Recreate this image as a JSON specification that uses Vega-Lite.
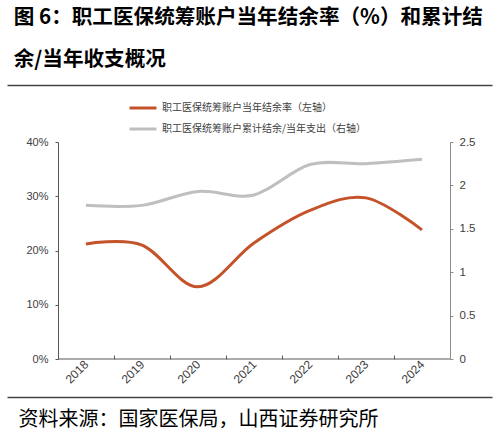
{
  "$schema": "https://vega.github.io/schema/vega-lite/v6.json",
  "autosize": {"type": "none"},
  "width": 485,
  "height": 217,
  "padding": {"left": 7, "top": 142, "right": 5, "bottom": 79},
  "background": "white",
  "title": {
    "text": ["图 6：职工医保统筹账户当年结余率（%）和累计结", "余/当年收支概况"],
    "anchor": "start",
    "dx": 11,
    "offset": 14,
    "lineHeight": 42,
    "font": "Noto Sans CJK SC",
    "fontSize": 20.6,
    "fontWeight": "bold",
    "color": "#000000"
  },
  "data": {
    "values": [
      {"year": "2018", "rate": 21.2, "ratio": 1.77},
      {"year": "2019", "rate": 21.0, "ratio": 1.77},
      {"year": "2020", "rate": 13.3, "ratio": 1.93},
      {"year": "2021", "rate": 21.4, "ratio": 1.89},
      {"year": "2022", "rate": 27.4, "ratio": 2.24},
      {"year": "2023", "rate": 29.7, "ratio": 2.25},
      {"year": "2024", "rate": 23.8, "ratio": 2.30}
    ]
  },
  "layer": [
    {
      "mark": {"type": "line", "interpolate": "cardinal", "tension": 0, "strokeWidth": 3},
      "encoding": {
        "x": {
          "field": "year",
          "type": "ordinal",
          "scale": {"paddingInner": 0, "paddingOuter": 0.83, "align": 0.548, "round": false},
          "axis": {
            "orient": "bottom",
            "title": null,
            "domain": false,
            "tickBand": "extent",
            "tickSize": -4,
            "tickColor": "#595959",
            "labelPadding": 7,
            "labelAngle": -45,
            "labelAlign": "right",
            "labelBaseline": "middle",
            "labelFont": "Liberation Sans",
            "labelFontSize": 12,
            "labelColor": "#404040"
          }
        },
        "y": {
          "field": "rate",
          "type": "quantitative",
          "scale": {"domain": [0, 40], "nice": false},
          "axis": {
            "orient": "left",
            "offset": -51,
            "title": null,
            "values": [0, 10, 20, 30, 40],
            "labelExpr": "datum.value + '%'",
            "grid": false,
            "domainColor": "#595959",
            "tickColor": "#595959",
            "tickSize": 3,
            "labelPadding": 7,
            "labelFont": "Liberation Sans",
            "labelFontSize": 11,
            "labelColor": "#404040"
          }
        },
        "color": {
          "datum": "职工医保统筹账户当年结余率（左轴）",
          "scale": {
            "domain": ["职工医保统筹账户当年结余率（左轴）", "职工医保统筹账户累计结余/当年支出（右轴）"],
            "range": ["#C5532A", "#BFBFBF"]
          },
          "legend": {
            "title": null,
            "orient": "none",
            "legendX": 121,
            "legendY": -49,
            "direction": "vertical",
            "symbolType": "stroke",
            "symbolSize": 729,
            "symbolStrokeWidth": 3,
            "rowPadding": -7,
            "labelOffset": 4,
            "labelFont": "Noto Sans CJK SC",
            "labelFontSize": 10,
            "labelColor": "#404040",
            "labelLimit": 400
          }
        }
      }
    },
    {
      "mark": {"type": "line", "interpolate": "cardinal", "tension": 0, "strokeWidth": 3},
      "encoding": {
        "x": {
          "field": "year",
          "type": "ordinal",
          "axis": {
            "orient": "top",
            "offset": 57,
            "title": null,
            "labels": false,
            "ticks": false,
            "domain": true,
            "domainColor": "#444444",
            "domainWidth": 1.5
          }
        },
        "y": {
          "field": "ratio",
          "type": "quantitative",
          "scale": {"domain": [0, 2.5], "nice": false},
          "axis": {
            "orient": "right",
            "offset": -42,
            "title": null,
            "values": [0, 0.5, 1, 1.5, 2, 2.5],
            "format": "~g",
            "grid": false,
            "domainColor": "#8C8C8C",
            "tickColor": "#8C8C8C",
            "tickSize": 3,
            "labelPadding": 6,
            "labelFont": "Liberation Sans",
            "labelFontSize": 11.5,
            "labelColor": "#404040"
          }
        },
        "color": {"datum": "职工医保统筹账户累计结余/当年支出（右轴）"}
      }
    },
    {
      "mark": {"type": "tick", "size": 56, "thickness": 1, "color": "#595959", "opacity": 1},
      "encoding": {
        "x": {
          "field": "year",
          "type": "ordinal",
          "axis": {
            "orient": "bottom",
            "offset": 38,
            "labels": false,
            "ticks": false,
            "domain": true,
            "domainColor": "#444444",
            "domainWidth": 1.5,
            "title": "资料来源：国家医保局，山西证券研究所",
            "titleAnchor": "start",
            "titleAlign": "left",
            "titleBaseline": "middle",
            "titleX": 11,
            "titleY": 22,
            "titleFont": "Noto Sans CJK SC",
            "titleFontSize": 20,
            "titleFontWeight": "normal",
            "titleColor": "#000000"
          }
        },
        "y": {"datum": 0, "type": "quantitative", "scale": {"domain": [0, 1]}, "axis": null}
      }
    }
  ],
  "resolve": {"scale": {"y": "independent"}, "axis": {"x": "independent"}},
  "config": {"view": {"stroke": null}}
}
